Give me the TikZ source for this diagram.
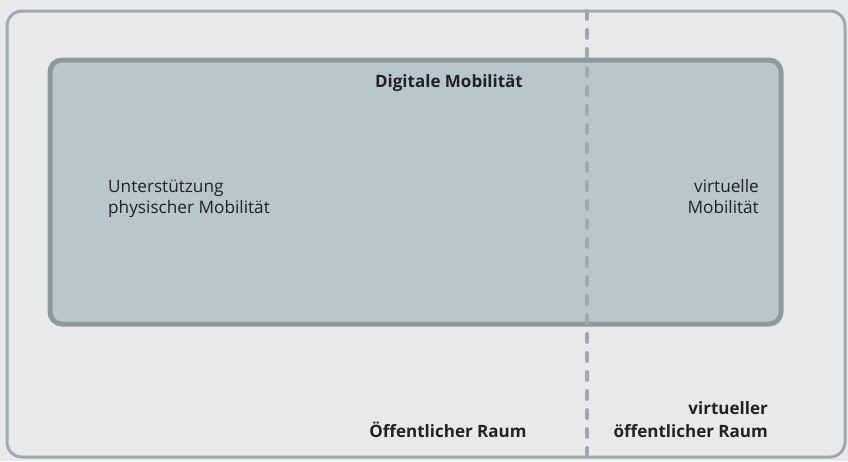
\documentclass[tikz,border=0pt]{standalone}
\usepackage{fontspec}
\setmainfont{Open Sans}
\definecolor{bgc}{HTML}{E8E9EB}
\definecolor{outerc}{HTML}{A0AAAD}
\definecolor{innerfill}{HTML}{B9C6CD}
\definecolor{innerdraw}{HTML}{8E9B9D}
\definecolor{txt}{HTML}{222222}
\begin{document}
\begin{tikzpicture}[x=1pt,y=-1pt,
  lbl/.style={text=txt,font=\fontsize{17.2}{21}\selectfont,inner sep=0pt},
  blbl/.style={lbl,font=\fontsize{17}{22.5}\selectfont\bfseries}]
\fill[bgc] (0,0) rectangle (848,461);
\useasboundingbox (0,0) rectangle (848,461);
\draw[outerc,line width=3pt,rounded corners=15pt] (7,11) rectangle (845,457);
\draw[innerdraw,fill=innerfill,line width=5pt,rounded corners=12pt] (50,60) rectangle (781,324);
\coordinate (dtop) at (587,11);
\coordinate (dbot) at (587,457);
\draw[outerc,line width=4pt,line cap=round,dash pattern=on 8pt off 11pt,dash phase=0pt] (dtop) -- (dbot);
\node[blbl,anchor=base] (dig) at (449,87) {Digitale Mobilität};
\node[lbl,anchor=base west,align=left] (phys) at (108,213) {Unterstützung\\physischer Mobilität};
\node[lbl,anchor=base east,align=right] (virt) at (759,213) {virtuelle\\Mobilität};
\node[blbl,anchor=base] (oeff) at (448,437) {Öffentlicher Raum};
\node[blbl,anchor=base east,align=right] (voeff) at (768,437) {virtueller\\öffentlicher Raum};
\end{tikzpicture}
\end{document}
